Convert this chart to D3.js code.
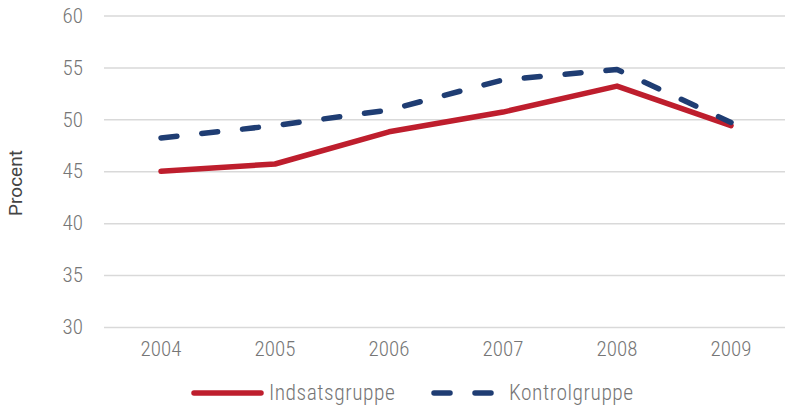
<!DOCTYPE html>
<html>
<head>
<meta charset="utf-8">
<script src="https://cdn.jsdelivr.net/npm/d3@7"></script>
<style>
  html, body { margin: 0; padding: 0; background: #fff; }
  svg { display: block; }
</style>
</head>
<body>
<svg id="chart" width="785" height="407"></svg>
<script>
const years = ["2004", "2005", "2006", "2007", "2008", "2009"];
const indsats = [45.0, 45.7, 48.8, 50.7, 53.2, 49.4];
const kontrol = [48.2, 49.4, 50.9, 53.8, 54.8, 49.7];
const yTicks = [30, 35, 40, 45, 50, 55, 60];
const seriesNames = ["Indsatsgruppe", "Kontrolgruppe"];

const font = "'Liberation Sans Narrow', 'Roboto Condensed', Roboto, sans-serif";
const textColor = "#767676";
const red = "#be1e2d";
const blue = "#1f3d73";

const svg = d3.select("#chart");
const margin = { left: 104, right: -3, top: 15.5, bottom: 80 };
const W = 785, H = 407;

const x = d3.scaleBand().domain(years).range([margin.left, W - margin.right]);
const y = d3.scaleLinear().domain([30, 60]).range([327, 15.5]);

// gridlines
const yAxis = d3.axisLeft(y).tickValues(yTicks).tickSize(-(W - margin.right - margin.left)).tickPadding(20);
const gy = svg.append("g").attr("transform", `translate(${margin.left},0)`).call(yAxis);
gy.select(".domain").remove();
gy.selectAll(".tick line").attr("stroke", "#d9d9d9").attr("stroke-width", 1.5);
gy.selectAll(".tick text").attr("fill", textColor).style("font-family", font).style("font-weight", 300).style("font-size", "21px").attr("x", -21);

// x axis labels
const xAxis = d3.axisBottom(x).tickSize(0).tickPadding(14);
const gx = svg.append("g").attr("transform", `translate(0,327)`).call(xAxis);
gx.select(".domain").remove();
gx.selectAll(".tick text").attr("fill", textColor).style("font-family", font).style("font-weight", 300).style("font-size", "21px");

// y label
svg.append("text")
  .attr("transform", `translate(22,183) rotate(-90)`)
  .attr("text-anchor", "middle")
  .attr("fill", "#444")
  .style("font-family", "Roboto, sans-serif")
  .style("font-size", "19px")
  .text("Procent");

const line = d3.line().x((d, i) => x(years[i]) + x.bandwidth() / 2).y(d => y(d));

svg.append("path").datum(indsats)
  .attr("d", line).attr("fill", "none").attr("stroke", red).attr("stroke-width", 5.5)
  .attr("stroke-linecap", "round").attr("stroke-linejoin", "round");

svg.append("path").datum(kontrol)
  .attr("d", line).attr("fill", "none").attr("stroke", blue).attr("stroke-width", 5.5)
  .attr("stroke-dasharray", "16,25")
  .attr("stroke-linecap", "round").attr("stroke-linejoin", "round");

// legend
const lg = svg.append("g");
lg.append("line").attr("x1", 194).attr("x2", 261).attr("y1", 393).attr("y2", 393)
  .attr("stroke", red).attr("stroke-width", 5.5).attr("stroke-linecap", "round");
lg.append("text").attr("x", 269).attr("y", 400).attr("fill", textColor)
  .style("font-family", font).style("font-weight", 300).style("font-size", "21.5px")
  .style("letter-spacing", "0.5px").text(seriesNames[0]);
lg.append("line").attr("x1", 434).attr("x2", 497).attr("y1", 393).attr("y2", 393)
  .attr("stroke", blue).attr("stroke-width", 5.5).attr("stroke-linecap", "round")
  .attr("stroke-dasharray", "16,25");
lg.append("text").attr("x", 509).attr("y", 400).attr("fill", textColor)
  .style("font-family", font).style("font-weight", 300).style("font-size", "21.5px")
  .style("letter-spacing", "0.5px").text(seriesNames[1]);
</script>
</body>
</html>
